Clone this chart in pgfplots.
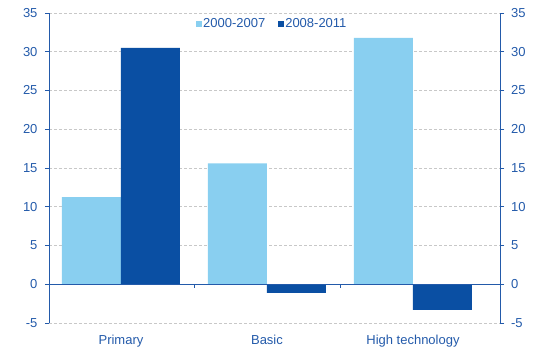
\documentclass[border=0pt]{standalone}
\usepackage{fontspec}
\setmainfont{Liberation Sans}
\usepackage{pgfplots}
\pgfplotsset{compat=1.18}
\definecolor{lightbar}{RGB}{137,207,240}
\definecolor{darkbar}{RGB}{10,79,163}
\definecolor{axisblue}{RGB}{35,90,170}
\definecolor{gridgray}{RGB}{200,200,200}

\begin{document}
\begin{tikzpicture}
\useasboundingbox (-49pt,-27pt) rectangle (489pt,323pt);
\pgfplotsset{
  common/.style={
    scale only axis, width=451pt, height=310pt,
    at={(0pt,0pt)}, anchor=south west,
    xmin=-0.493, xmax=2.596, ymin=-5, ymax=35,
    ytick={-5,0,...,35},
    tick align=outside,
    major tick length=4pt,
    separate axis lines,
    x axis line style={draw=none},
    y axis line style={axisblue, line width=0.8pt},
    y tick style={axisblue, line width=0.8pt},
    tick label style={font=\fontsize{13}{15}\selectfont, text=axisblue},
    /pgf/number format/assume math mode=true,
  }
}
\begin{axis}[common,
  ytick pos=both, yticklabel pos=left,
  yticklabel style={xshift=-4pt},
  ymajorgrids,
  grid style={gridgray, dash pattern=on 3pt off 2pt, line width=0.6pt},
  xtick={0,1,2}, xticklabels={Primary,Basic,High technology},
  xticklabel pos=lower,
  x tick style={draw=none},
  xticklabel style={yshift=-5pt},
  ybar=0pt, bar width=59pt,
  legend style={at={(0.494,0.9645)}, anchor=center, draw=none, fill=none,
    legend columns=2, font=\fontsize{13}{15}\selectfont, text=axisblue,
    nodes={inner sep=1.5pt},
    /tikz/every even column/.append style={column sep=11pt}},
  legend image code/.code={\fill[#1] (0pt,-3pt) rectangle (6pt,3pt);},
]
\addplot[fill=lightbar, draw=none] coordinates {(0,11.25) (1,15.6) (2,31.8)};
\addplot[fill=darkbar, draw=none] coordinates {(0,30.5) (1,-1.1) (2,-3.3)};
\legend{2000-2007,2008-2011}
% zero line and category separators
\draw[axisblue, line width=0.8pt] (axis cs:-0.493,0) -- (axis cs:2.596,0);
\draw[axisblue, line width=0.8pt] (axis cs:0.5,0) -- ++(0pt,-4pt);
\draw[axisblue, line width=0.8pt] (axis cs:1.5,0) -- ++(0pt,-4pt);
\end{axis}
\begin{axis}[common,
  ytick pos=right, yticklabel pos=right,
  yticklabel style={xshift=3.5pt},
  xtick=\empty,
]
\end{axis}
\end{tikzpicture}
\end{document}
